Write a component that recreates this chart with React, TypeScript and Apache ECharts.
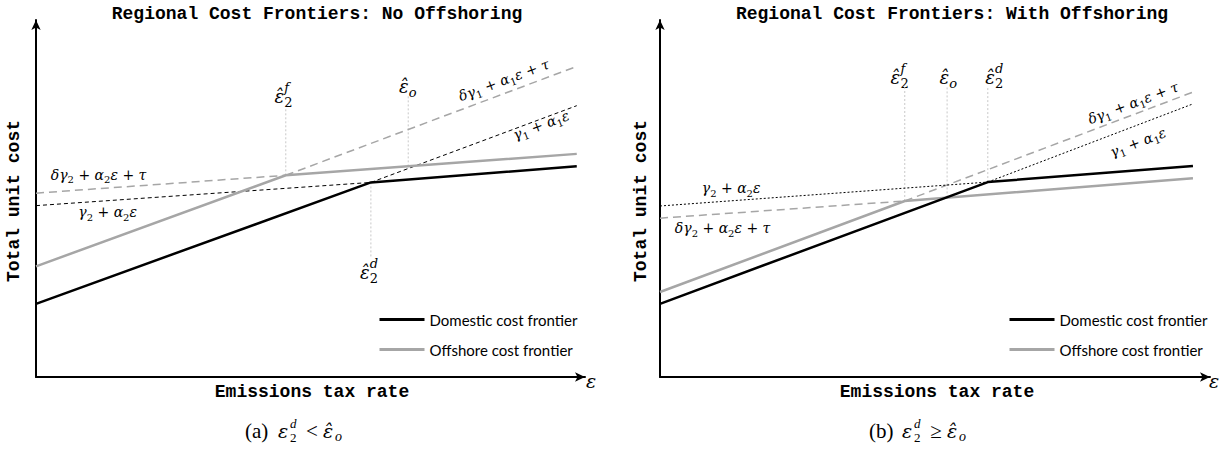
import React, { useEffect, useRef } from "react";
import * as echarts from "echarts";

// ---------- Panel (a): No offshoring (x: tax rate 0-100, y: unit cost 0-100) ----------
const aDomestic = [[0, 20.5], [61, 54.5], [98.5, 59]];
const aOffshore = [[0, 31], [45.5, 56.5], [98.5, 62.5]];
const aDeltaGamma2 = [[0, 51.5], [45.5, 56.5]];
const aDeltaGamma1 = [[45.5, 56.5], [98.5, 87]];
const aGamma2 = [[0, 48], [61, 54.5]];
const aGamma1 = [[61, 54.5], [98.5, 76]];
const aEps2f = [[45.5, 56.5], [45.5, 75.5]];
const aEpsO = [[67.8, 59], [67.8, 79]];
const aEps2d = [[61, 54.5], [61, 33.5]];

// ---------- Panel (b): With offshoring ----------
const bDomestic = [[0, 20.5], [59.6, 54.6], [96.9, 59.1]];
const bOffshore = [[0, 23.8], [44.5, 49.3], [96.9, 55.7]];
const bDeltaGamma2 = [[0, 44.5], [44.5, 49.3]];
const bDeltaGamma1 = [[44.5, 49.3], [96.9, 79.8]];
const bGamma2 = [[0, 47.9], [59.6, 54.6]];
const bGamma1 = [[59.6, 54.6], [96.9, 76.5]];
const bEps2f = [[44.5, 49.3], [44.5, 81.5]];
const bEpsO = [[52.2, 50.3], [52.2, 81.5]];
const bEps2d = [[59.6, 54.6], [59.6, 81.5]];

const titles = ["Regional Cost Frontiers: No Offshoring", "Regional Cost Frontiers: With Offshoring"];
const legendNames = ["Domestic cost frontier", "Offshore cost frontier"];
const xName = "Emissions tax rate";
const yName = "Total unit cost";

const MATH = '"DejaVu Serif", serif';
const MONO = '"Liberation Mono", "Courier New", monospace';
const SANS = 'Lato, "Liberation Sans", sans-serif';
const CAP = '"Liberation Serif", serif';

const BLACK = "#000000";
const GRAY = "#a6a6a6";
const VGRAY = "#c8c8c8";

function seg(name: string, data: number[][], g: number, color: string, width: number, type: any, z: number) {
  return {
    type: "line",
    name,
    data,
    xAxisIndex: g,
    yAxisIndex: g,
    symbol: "none",
    showSymbol: false,
    lineStyle: { color, width, type },
    itemStyle: { color },
    silent: true,
    z,
    emphasis: { disabled: true },
  };
}

function axes(g: number) {
  return {
    gridIndex: g,
    type: "value",
    min: 0,
    max: 100,
    axisLine: {
      show: true,
      onZero: false,
      lineStyle: { color: "#000", width: 2 },
      symbol: ["none", "arrow"],
      symbolSize: [7, 10],
    },
    axisTick: { show: false },
    axisLabel: { show: false },
    splitLine: { show: false },
  };
}

const formulaRich = {
  g: { fontFamily: MATH, fontStyle: "italic", fontSize: 14, lineHeight: 20, verticalAlign: "middle", fill: "#000" },
  n: { fontFamily: MATH, fontSize: 14, lineHeight: 20, verticalAlign: "middle", fill: "#000" },
  s: { fontFamily: MATH, fontSize: 10, lineHeight: 10, verticalAlign: "bottom", fill: "#000" },
};

const F_DG2T = "{g|δγ}{s|2}{n| + }{g|α}{s|2}{g|ε}{n| + }{g|τ}";
const F_G2 = "{g|γ}{s|2}{n| + }{g|α}{s|2}{g|ε}";
const F_DG1T = "{g|δγ}{s|1}{n| + }{g|α}{s|1}{g|ε}{n| + }{g|τ}";
const F_G1 = "{g|γ}{s|1}{n| + }{g|α}{s|1}{g|ε}";

function formula(x: number, y: number, text: string, align: string, rotation = 0) {
  return {
    type: "text",
    x,
    y,
    rotation,
    silent: true,
    style: { text, rich: formulaRich, align, verticalAlign: "middle", fill: "#000" },
  };
}

function hatEps(cx: number, cy: number, sup: string | null, sub: string | null, subItalic: boolean) {
  const els: any[] = [
    {
      type: "text",
      x: cx,
      y: cy,
      silent: true,
      style: { text: "ε\u0302", fontFamily: MATH, fontStyle: "italic", fontSize: 18, fill: "#000", align: "center", verticalAlign: "middle" },
    },
  ];
  if (sup)
    els.push({
      type: "text",
      x: cx + 5,
      y: cy - 9,
      silent: true,
      style: { text: sup, fontFamily: MATH, fontStyle: "italic", fontSize: 13, fill: "#000", align: "left", verticalAlign: "middle" },
    });
  if (sub)
    els.push({
      type: "text",
      x: cx + 5,
      y: cy + 6,
      silent: true,
      style: { text: sub, fontFamily: MATH, fontStyle: subItalic ? "italic" : "normal", fontSize: 13, fill: "#000", align: "left", verticalAlign: "middle" },
    });
  return els;
}

function caption(x0: number, y: number, letter: string, rel: string) {
  const t = (x: number, yy: number, text: string, size: number, italic: boolean, family = CAP, align = "left") => ({
    type: "text",
    x,
    y: yy,
    silent: true,
    style: { text, fontFamily: family, fontStyle: italic ? "italic" : "normal", fontSize: size, fill: "#000", align, verticalAlign: "middle" },
  });
  return [
    t(x0, y, "(" + letter + ")", 21, false),
    t(x0 + 33, y, "ε", 19, true, MATH),
    t(x0 + 45, y - 8, "d", 13, true),
    t(x0 + 45, y + 6, "2", 13, false),
    t(x0 + 67, y, rel, 21, false, CAP, "center"),
    t(x0 + 78, y, "ε\u0302", 19, true, MATH),
    t(x0 + 90, y + 5, "o", 14, true),
  ];
}

function baseOption() {
  const series: any[] = [];
  // panel a
  series.push(seg("a-f", aEps2f, 0, VGRAY, 1, [2, 2], 1));
  series.push(seg("a-o", aEpsO, 0, VGRAY, 1, [2, 2], 1));
  series.push(seg("a-d", aEps2d, 0, VGRAY, 1, [2, 2], 1));
  series.push(seg("a-dg2", aDeltaGamma2, 0, GRAY, 1.5, [8, 5], 2));
  series.push(seg("a-dg1", aDeltaGamma1, 0, GRAY, 1.5, [8, 5], 2));
  series.push(seg("a-g2", aGamma2, 0, BLACK, 1, [4, 3], 2));
  series.push(seg("a-g1", aGamma1, 0, BLACK, 1, [4, 3], 2));
  series.push(seg(legendNames[1], aOffshore, 0, GRAY, 2.5, "solid", 3));
  series.push(seg(legendNames[0], aDomestic, 0, BLACK, 2.5, "solid", 4));
  // panel b
  series.push(seg("b-f", bEps2f, 1, VGRAY, 1, [2, 2], 1));
  series.push(seg("b-o", bEpsO, 1, VGRAY, 1, [2, 2], 1));
  series.push(seg("b-d", bEps2d, 1, VGRAY, 1, [2, 2], 1));
  series.push(seg("b-dg2", bDeltaGamma2, 1, GRAY, 1.5, [8, 5], 2));
  series.push(seg("b-dg1", bDeltaGamma1, 1, GRAY, 1.5, [8, 5], 2));
  series.push(seg("b-g2", bGamma2, 1, BLACK, 1, [2, 2], 2));
  series.push(seg("b-g1", bGamma1, 1, BLACK, 1, [2, 2], 2));
  series.push(seg(legendNames[1], bOffshore, 1, GRAY, 2.5, "solid", 3));
  series.push(seg(legendNames[0], bDomestic, 1, BLACK, 2.5, "solid", 4));

  const legend = (left: number) => ({
    left,
    top: 312,
    orient: "vertical",
    itemWidth: 45,
    itemHeight: 14,
    itemGap: 15,
    padding: 0,
    selectedMode: false,
    data: legendNames,
    itemStyle: { opacity: 0 },
    lineStyle: { width: 3 },
    textStyle: { fontFamily: SANS, fontSize: 15, color: "#000", padding: [0, 0, 0, 0] },
  });

  return {
    animation: false,
    backgroundColor: "#ffffff",
    grid: [
      { left: 36, top: 20, width: 549, height: 357 },
      { left: 660, top: 20, width: 550, height: 357 },
    ],
    xAxis: [axes(0), axes(1)],
    yAxis: [axes(0), axes(1)],
    legend: [legend(378), legend(1008)],
    series,
  };
}

function graphics(p: (g: number, pt: number[]) => number[]) {
  const els: any[] = [];
  const angle = (g: number, a: number[], b: number[]) => {
    const pa = p(g, a);
    const pb = p(g, b);
    return Math.atan2(pa[1] - pb[1], pb[0] - pa[0]);
  };
  const at = (g: number, pt: number[]) => p(g, pt);

  const title = (x: number, text: string) => ({
    type: "text",
    x,
    y: 14,
    silent: true,
    style: { text, fontFamily: MONO, fontWeight: "bold", fontSize: 18, fill: "#000", align: "center", verticalAlign: "middle" },
  });
  els.push(title(317, titles[0]), title(952, titles[1]));

  const xLab = (x: number) => ({
    type: "text",
    x,
    y: 392,
    silent: true,
    style: { text: xName, fontFamily: MONO, fontWeight: "bold", fontSize: 18, fill: "#000", align: "center", verticalAlign: "middle" },
  });
  const yLab = (x: number) => ({
    type: "text",
    x,
    y: 201,
    rotation: Math.PI / 2,
    silent: true,
    style: { text: yName, fontFamily: MONO, fontWeight: "bold", fontSize: 18, fill: "#000", align: "center", verticalAlign: "middle" },
  });
  const epsEnd = (x: number) => ({
    type: "text",
    x,
    y: 381,
    silent: true,
    style: { text: "ε", fontFamily: MATH, fontStyle: "italic", fontSize: 19, fill: "#000", align: "center", verticalAlign: "middle" },
  });
  els.push(xLab(312), xLab(937), yLab(14), yLab(641), epsEnd(591), epsEnd(1214));

  // panel a labels
  let q = at(0, [85.2, 83.2]);
  els.push(formula(q[0], q[1], F_DG1T, "center", angle(0, aDeltaGamma1[0], aDeltaGamma1[1])));
  q = at(0, [92.0, 70.6]);
  els.push(formula(q[0], q[1], F_G1, "center", angle(0, aGamma1[0], aGamma1[1])));
  q = at(0, [2.7, 56.6]);
  els.push(formula(q[0], q[1], F_DG2T, "left"));
  q = at(0, [7.7, 46.2]);
  els.push(formula(q[0], q[1], F_G2, "left"));
  q = at(0, [44.3, 78.6]);
  els.push(...hatEps(q[0], q[1], "f", "2", false));
  q = at(0, [67.0, 81.5]);
  els.push(...hatEps(q[0], q[1], null, "o", true));
  q = at(0, [59.9, 29.4]);
  els.push(...hatEps(q[0], q[1], "d", "2", false));

  // panel b labels
  q = at(1, [86.0, 76.8]);
  els.push(formula(q[0], q[1], F_DG1T, "center", angle(1, bDeltaGamma1[0], bDeltaGamma1[1])));
  q = at(1, [86.9, 65.8]);
  els.push(formula(q[0], q[1], F_G1, "center", angle(1, bGamma1[0], bGamma1[1])));
  q = at(1, [7.6, 52.9]);
  els.push(formula(q[0], q[1], F_G2, "left"));
  q = at(1, [2.7, 41.7]);
  els.push(formula(q[0], q[1], F_DG2T, "left"));
  q = at(1, [42.8, 84.0]);
  els.push(...hatEps(q[0], q[1], "f", "2", false));
  q = at(1, [51.7, 84.0]);
  els.push(...hatEps(q[0], q[1], null, "o", true));
  q = at(1, [60.0, 84.0]);
  els.push(...hatEps(q[0], q[1], "d", "2", false));

  // captions
  els.push(...caption(245, 431, "a", "<"));
  els.push(...caption(869, 431, "b", "≥"));

  return els;
}

export default function App() {
  const ref = useRef<HTMLDivElement>(null);
  useEffect(() => {
    if (!ref.current) return;
    const chart = echarts.init(ref.current, null, { renderer: "svg" });
    chart.setOption(baseOption() as any);
    const p = (g: number, pt: number[]) => chart.convertToPixel({ gridIndex: g } as any, pt) as number[];
    chart.setOption({ graphic: graphics(p) } as any);
    return () => chart.dispose();
  }, []);
  return (
    <div
      ref={ref}
      style={{ position: "fixed", left: 0, top: 0, width: 1220, height: 450, background: "#fff" }}
    />
  );
}
